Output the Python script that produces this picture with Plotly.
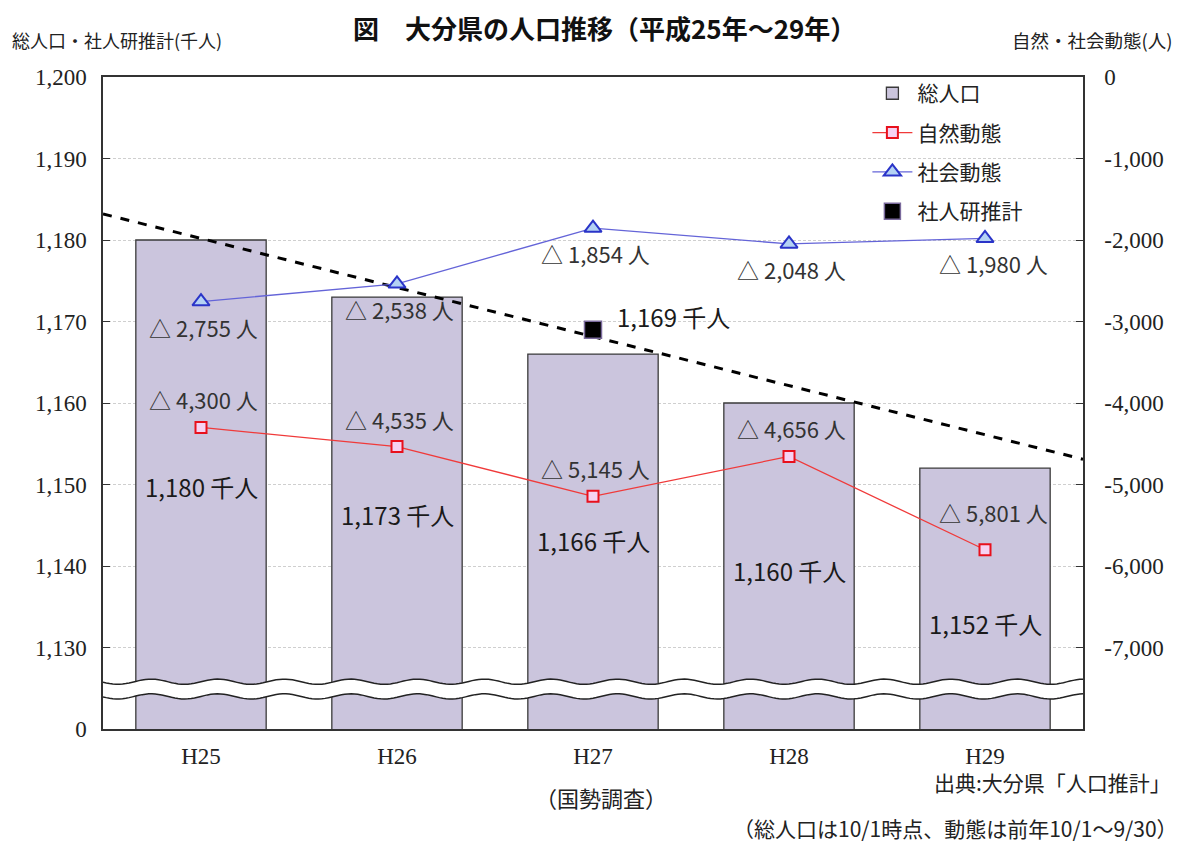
import numpy as np
import plotly.graph_objects as go

# ---- data ----
years = ["H25", "H26", "H27", "H28", "H29"]
total_pop = [1180, 1173, 1166, 1160, 1152]          # 千人
natural = [-4300, -4535, -5145, -4656, -5801]        # 人
social = [-2755, -2538, -1854, -2048, -1980]         # 人
ipss_year_idx = [2]
ipss_value = [1169]                                  # 社人研推計 (千人)
trend_x = [-0.5, 4.5]
trend_y = [1183.2, 1153.1]
left_ticks = [1120, 1130, 1140, 1150, 1160, 1170, 1180, 1190, 1200]
left_ticktext = ["0", "1,130", "1,140", "1,150", "1,160", "1,170", "1,180", "1,190", "1,200"]
right_ticks = [-7000, -6000, -5000, -4000, -3000, -2000, -1000, 0]
right_ticktext = ["-7,000", "-6,000", "-5,000", "-4,000", "-3,000", "-2,000", "-1,000", "0"]
bar_label_y = [1149.7, 1146.3, 1143.1, 1139.5, 1133.0]

x = list(range(len(years)))

JP = "Noto Sans CJK JP"
SERIF = "Liberation Serif"

fig = go.Figure()

fig.add_trace(go.Bar(
    x=x, y=total_pop, width=0.665, name="総人口",
    marker=dict(color="#cbc5dd", line=dict(color="#3a3a3a", width=1.3)),
    legendgroup="a", yaxis="y",
))
fig.add_trace(go.Scatter(
    x=trend_x, y=trend_y, mode="lines", showlegend=False,
    line=dict(color="black", width=3, dash="dash"), yaxis="y",
))
fig.add_trace(go.Scatter(
    x=x, y=natural, mode="lines+markers", name="自然動態", yaxis="y2",
    line=dict(color="#f03a3a", width=1.3),
    marker=dict(symbol="square", size=11, color="#f6d2f2", line=dict(color="#e8101c", width=2)),
    legendgroup="b",
))
fig.add_trace(go.Scatter(
    x=x, y=social, mode="lines+markers", name="社会動態", yaxis="y2",
    line=dict(color="#6464d8", width=1.3),
    marker=dict(symbol="triangle-up", size=15, color="#b4d2f4", line=dict(color="#2a34c8", width=2)),
    legendgroup="c",
))
fig.add_trace(go.Scatter(
    x=ipss_year_idx, y=ipss_value, mode="markers", name="社人研推計", yaxis="y",
    marker=dict(symbol="square", size=17, color="black", line=dict(color="#7a6a9c", width=1.5)),
    legendgroup="d",
))

annotations = []
# bar labels
for i, (v, ly) in enumerate(zip(total_pop, bar_label_y)):
    annotations.append(dict(x=i, y=ly, xref="x", yref="y", text=f"{v:,} 千人", showarrow=False,
                            font=dict(family=JP, size=24, color="#1a1a1a")))
# social labels (below markers)
for i, v in enumerate(social):
    annotations.append(dict(x=i, y=v, xref="x", yref="y2", text=f"△ {abs(v):,} 人", showarrow=False,
                            yshift=-25, xshift=2 if i < 4 else 8,
                            font=dict(family=JP, size=22, color="#333333")))
# natural labels (above markers)
for i, v in enumerate(natural):
    annotations.append(dict(x=i, y=v, xref="x", yref="y2", text=f"△ {abs(v):,} 人", showarrow=False,
                            yshift=28 if i != 4 else 38, xshift=2 if i < 4 else 8,
                            font=dict(family=JP, size=22, color="#333333")))
# IPSS label
annotations.append(dict(x=ipss_year_idx[0], y=ipss_value[0], xref="x", yref="y",
                        text=f"{ipss_value[0]:,} 千人", showarrow=False, xanchor="left",
                        xshift=22, yshift=13, font=dict(family=JP, size=24, color="#1a1a1a")))
# titles / notes
annotations += [
    dict(text="<b>図　大分県の人口推移（平成25年～29年）</b>", x=0.512, y=1.0752, xref="paper", yref="paper",
         yanchor="middle", showarrow=False, borderpad=0,
         font=dict(family=JP, size=26, color="#111111")),
    dict(text="総人口・社人研推計(千人)", x=-0.0949, xanchor="left", y=1.0567, yref="paper",
         xref="paper", yanchor="middle", showarrow=False,
         font=dict(family=JP, size=18, color="#222222")),
    dict(text="自然・社会動態(人)", x=1.0939, xanchor="right", y=1.0567, yref="paper",
         xref="paper", yanchor="middle", showarrow=False,
         font=dict(family=JP, size=18.5, color="#222222")),
    dict(text="（国勢調査）", x=2, xref="x", xshift=8, y=-0.104, yref="paper", yanchor="middle",
         showarrow=False, font=dict(family=JP, size=22, color="#222222")),
    dict(text="出典:大分県「人口推計」", x=1.092, xref="paper", xanchor="right", y=-0.0813, yref="paper",
         yanchor="middle", showarrow=False,
         font=dict(family=JP, size=21, color="#222222")),
    dict(text="（総人口は10/1時点、動態は前年10/1～9/30）", x=1.099, xref="paper", xanchor="right",
         y=-0.1518, yref="paper", yanchor="middle", showarrow=False,
         font=dict(family=JP, size=21, color="#222222")),
]

# axis-break band (decoration)
xs = np.linspace(-0.5, 4.5, 301)
period = 0.34
amp = 0.32
top = 1125.8 + amp * np.sin(2 * np.pi * xs / period)
bot = 1124.0 + amp * np.sin(2 * np.pi * xs / period)
fill_path = "M " + " L ".join(f"{a:.4f},{b:.4f}" for a, b in zip(xs, top))
fill_path += " L " + " L ".join(f"{a:.4f},{b:.4f}" for a, b in zip(xs[::-1], bot[::-1])) + " Z"
top_path = "M " + " L ".join(f"{a:.4f},{b:.4f}" for a, b in zip(xs, top))
bot_path = "M " + " L ".join(f"{a:.4f},{b:.4f}" for a, b in zip(xs, bot))
shapes = [
    dict(type="path", path=fill_path, xref="x", yref="y", fillcolor="white",
         line=dict(width=0), layer="above"),
    dict(type="path", path=top_path, xref="x", yref="y", line=dict(color="#222222", width=1.5), layer="above"),
    dict(type="path", path=bot_path, xref="x", yref="y", line=dict(color="#222222", width=1.5), layer="above"),
]

fig.update_layout(
    width=1173, height=836,
    margin=dict(l=95, r=98, t=69, b=115),
    paper_bgcolor="white", plot_bgcolor="white",
    showlegend=True,
    legend=dict(x=0.78, y=1.006, xanchor="left", yanchor="top", bgcolor="rgba(0,0,0,0)",
                font=dict(family=JP, size=21, color="#222222"), traceorder="grouped",
                tracegroupgap=9, itemwidth=40),
    xaxis=dict(range=[-0.5, 4.5], tickvals=x, ticktext=years, showgrid=False, zeroline=False,
               ticks="outside", ticklen=6, tickcolor="rgba(0,0,0,0)",
               showline=True, linecolor="#333333", linewidth=1.5, mirror=True,
               tickfont=dict(family=SERIF, size=23, color="#222222")),
    yaxis=dict(range=[1120, 1200], tickvals=left_ticks, ticktext=left_ticktext,
               showgrid=True, gridcolor="#cfcfcf", griddash="3px,2px", gridwidth=1,
               zeroline=False, ticks="inside", ticklen=7, tickcolor="#333333",
               showline=True, linecolor="#333333", linewidth=1.5, ticklabelstandoff=10,
               tickfont=dict(family=SERIF, size=23, color="#222222")),
    yaxis2=dict(range=[-8000, 0], tickvals=right_ticks, ticktext=right_ticktext, overlaying="y",
                side="right", showgrid=False, zeroline=False, ticks="inside", ticklen=7,
                tickcolor="#333333", showline=True, linecolor="#333333", linewidth=1.5,
                ticklabelstandoff=15,
                tickfont=dict(family=SERIF, size=23, color="#222222")),
    annotations=annotations,
    shapes=shapes,
)

fig.write_html("out.html")
